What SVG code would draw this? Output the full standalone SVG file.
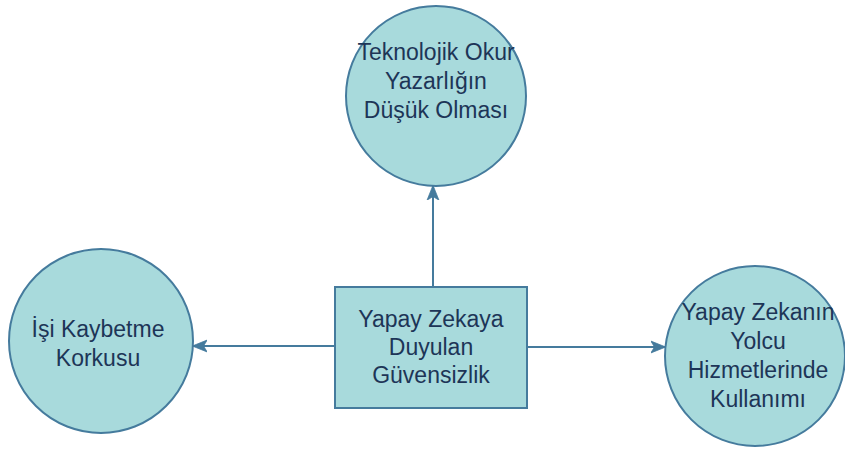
<svg xmlns="http://www.w3.org/2000/svg" width="845" height="450" viewBox="0 0 845 450">
  <style>
    .node { fill: #a8dadc; stroke: #457b9d; stroke-width: 2; }
    .label { font-family: "Liberation Sans", Arial, sans-serif; font-size: 23px; fill: #1d3557; text-anchor: middle; }
    .edge { fill: none; stroke: #457b9d; stroke-width: 2; }
  </style>
  <defs>
    <marker id="arrow" viewBox="0 0 10 10" refX="9.5" refY="5" markerWidth="15" markerHeight="15" markerUnits="userSpaceOnUse" orient="auto">
      <path d="M0,1 L10,5 L0,9 L2.5,5 Z" fill="#457b9d" stroke="#457b9d" stroke-width="0.5"/>
    </marker>
  </defs>
  <rect width="845" height="450" fill="#ffffff"/>

  <!-- edges from the central box out to each circle -->
  <g id="connectors">
    <path class="edge" d="M433,287 L433,186" marker-end="url(#arrow)"/>
    <path class="edge" d="M335,346 L193,346" marker-end="url(#arrow)"/>
    <path class="edge" d="M527,347 L665,347" marker-end="url(#arrow)"/>
  </g>

  <g id="center">
    <rect class="node" x="335" y="287" width="192" height="121"/>
    <text class="label" x="431" y="327">Yapay Zekaya</text>
    <text class="label" x="431" y="355">Duyulan</text>
    <text class="label" x="431" y="383">Güvensizlik</text>
  </g>

  <g id="top">
    <circle class="node" cx="436" cy="96" r="90"/>
    <text class="label" x="436" y="60">Teknolojik Okur</text>
    <text class="label" x="436" y="89">Yazarlığın</text>
    <text class="label" x="436" y="118">Düşük Olması</text>
  </g>

  <g id="left">
    <circle class="node" cx="101" cy="341" r="92"/>
    <text class="label" x="98" y="337">İşi Kaybetme</text>
    <text class="label" x="98" y="366">Korkusu</text>
  </g>

  <g id="right">
    <circle class="node" cx="755" cy="356" r="90"/>
    <text class="label" x="758" y="320">Yapay Zekanın</text>
    <text class="label" x="758" y="349">Yolcu</text>
    <text class="label" x="758" y="378">Hizmetlerinde</text>
    <text class="label" x="758" y="407">Kullanımı</text>
  </g>
</svg>
